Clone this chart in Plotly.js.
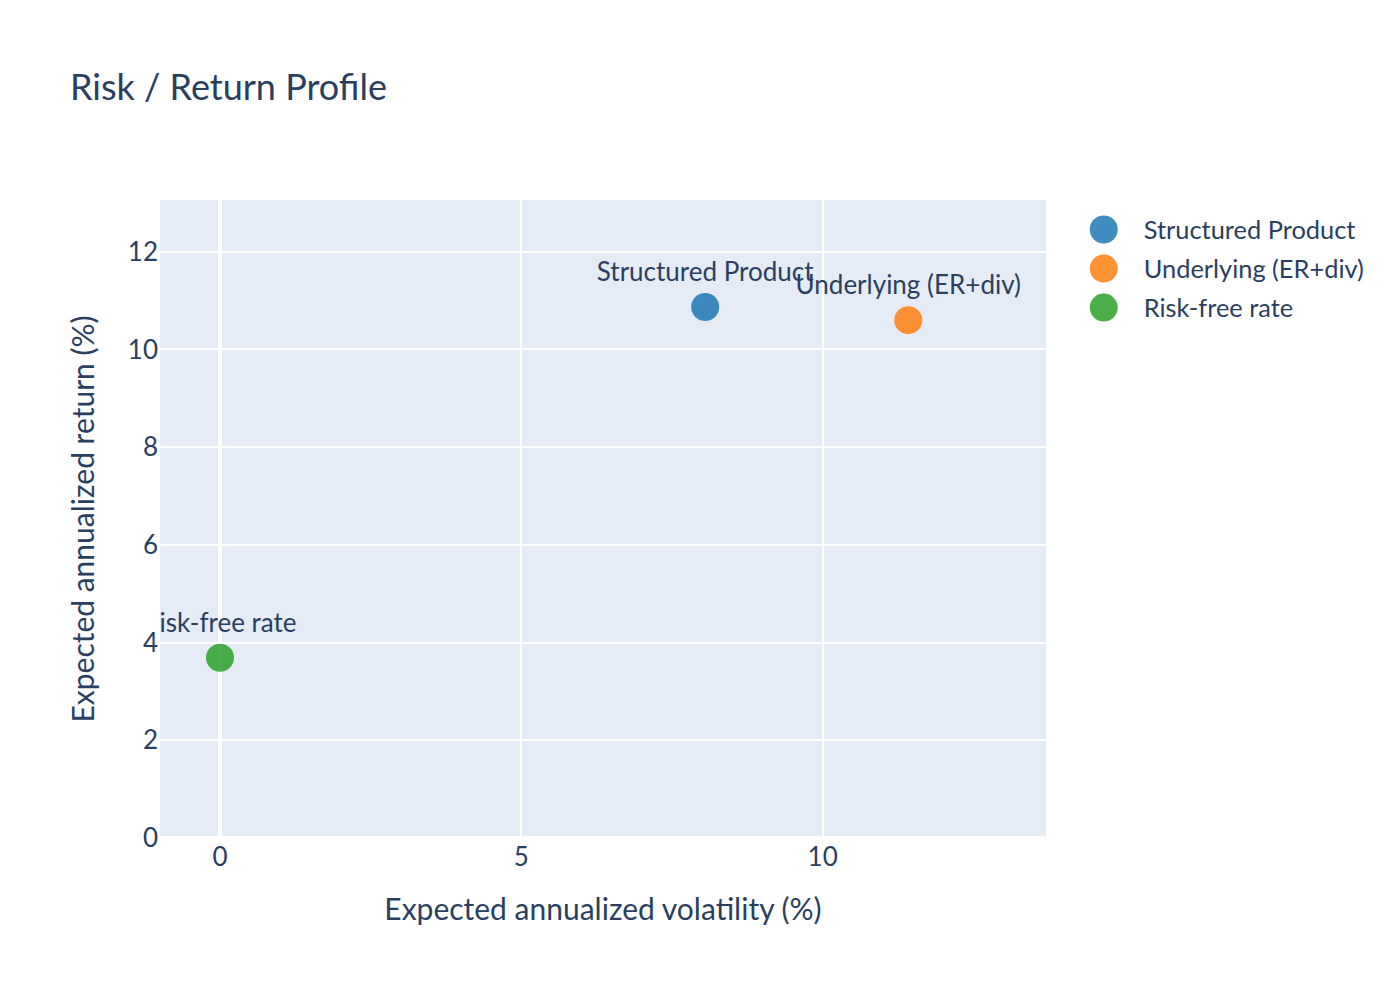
<!DOCTYPE html>
<html>
<head>
<meta charset="utf-8">
<script src="https://cdn.plot.ly/plotly-3.0.1.min.js"></script>
<style>
	html, body { margin: 0; padding: 0; background: #fff; }
	body { width: 1400px; height: 1000px; }
	#chart { width: 700px; height: 500px; transform: scale(2); transform-origin: 0 0; }
</style>
</head>
<body>
<div id="chart"></div>
<script>
const names = ["Structured Product", "Underlying (ER+div)", "Risk-free rate"];
const volatility = [8.05, 11.42, 0];
const expReturn = [10.87, 10.60, 3.69];
const colors = ["#1f77b4", "#ff7f0e", "#2ca02c"];

const fontFamily = "Lato, 'Source Sans Pro', sans-serif";

// one trace per instrument so each gets its own legend entry
const data = names.map(function (name, i) {
	return {
		type: 'scatter',
		mode: 'markers+text',
		name: name,
		x: [volatility[i]],
		y: [expReturn[i]],
		text: [name],
		textposition: 'top center',
		marker: { size: 14, color: colors[i], opacity: 0.85 },
		textfont: { family: fontFamily, size: 13, color: '#2a3f5f' }
	};
});

const layout = {
	width: 700,
	height: 500,
	font: { family: fontFamily, size: 13, color: '#2a3f5f' },
	title: { text: 'Risk / Return Profile', x: 0.05, font: { size: 18 } },
	paper_bgcolor: '#fff',
	plot_bgcolor: '#E5ECF6',
	margin: { l: 80, r: 177, t: 100, b: 81 },
	xaxis: {
		title: { text: 'Expected annualized volatility (%)', font: { size: 15 }, standoff: 14 },
		automargin: false,
		range: [-0.996, 13.705],
		gridcolor: 'white',
		zerolinecolor: 'white',
		zerolinewidth: 2,
		dtick: 5,
		ticks: ''
	},
	yaxis: {
		title: { text: 'Expected annualized return (%)', font: { size: 15 }, standoff: 12 },
		automargin: false,
		range: [0, 13.06],
		gridcolor: 'white',
		zerolinecolor: 'white',
		zerolinewidth: 2,
		dtick: 2,
		ticks: ''
	},
	legend: { font: { size: 12.7 } },
	showlegend: true
};

Plotly.newPlot('chart', data, layout, { displayModeBar: false, staticPlot: true });
</script>
</body>
</html>
